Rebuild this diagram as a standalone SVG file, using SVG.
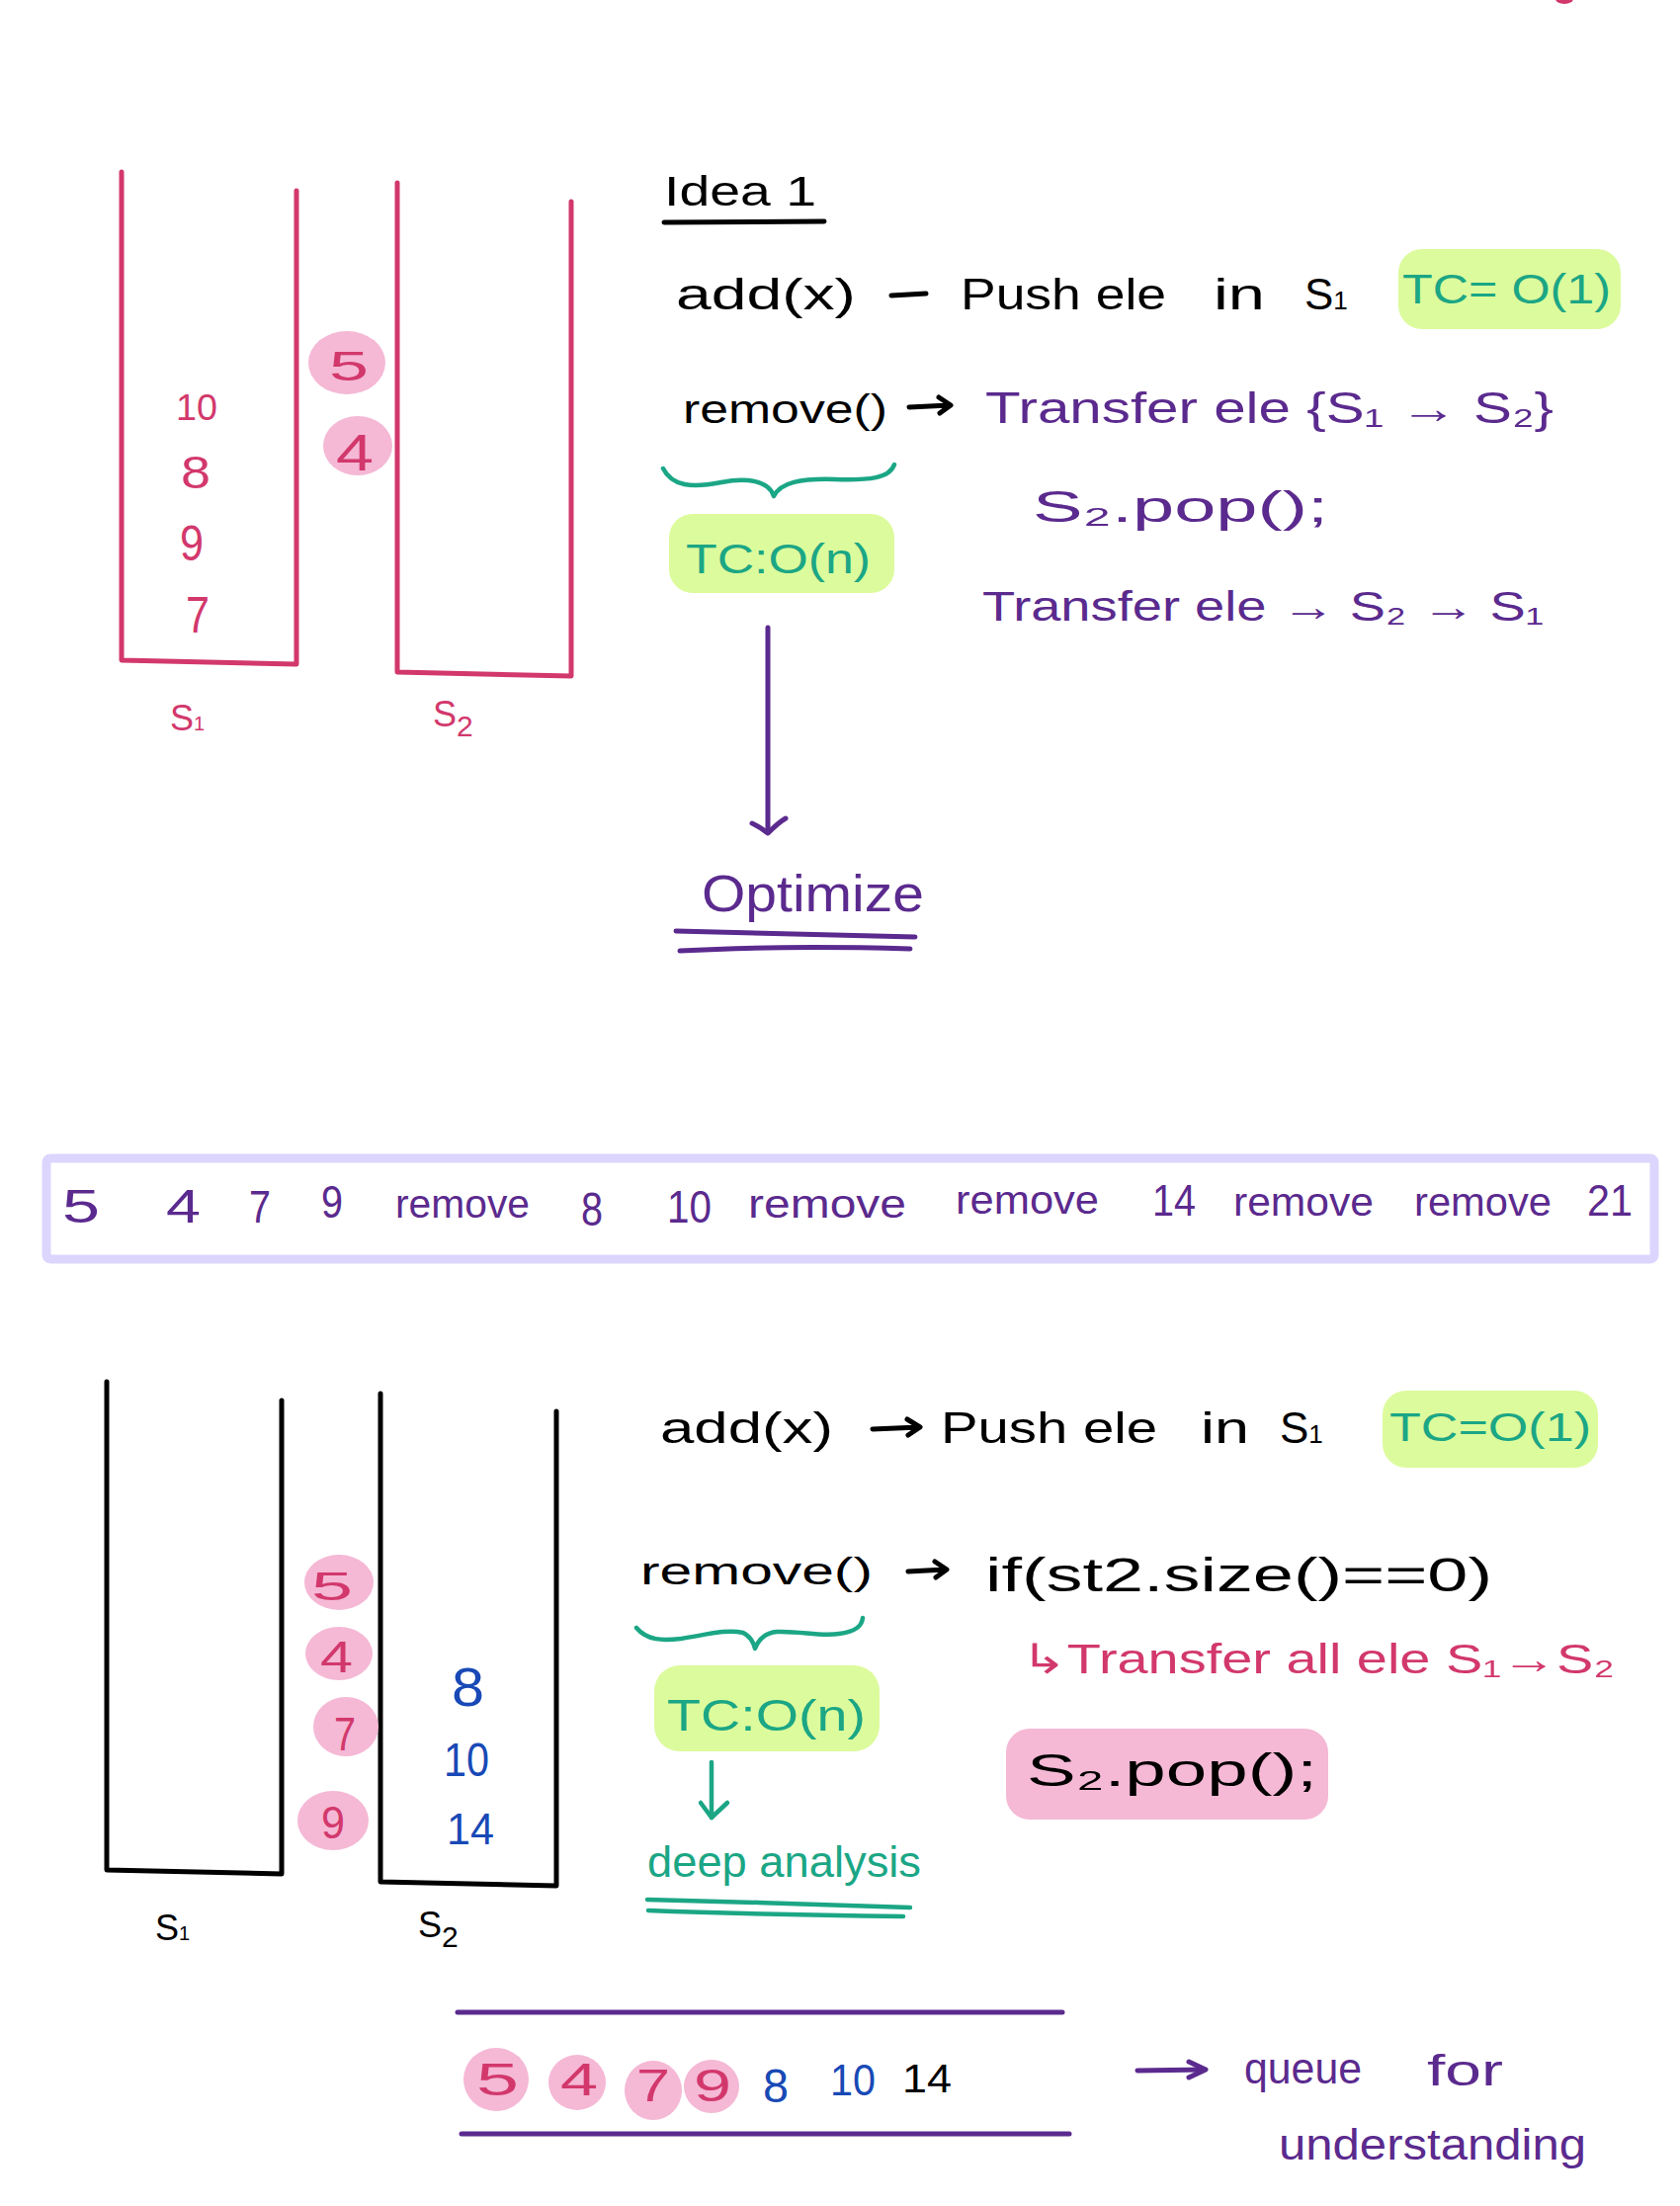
<svg xmlns="http://www.w3.org/2000/svg" width="1700" height="2232" viewBox="0 0 1700 2232">
<defs>
<style>
.t{font-family:"Liberation Sans","DejaVu Sans",sans-serif}
.pk{stroke:#D2386C;stroke-width:5;fill:none;stroke-linecap:round;stroke-linejoin:round}
.bkl{stroke:#000;stroke-width:5;fill:none;stroke-linecap:round;stroke-linejoin:round}
.pu{stroke:#5B2A8E;stroke-width:5;fill:none;stroke-linecap:round;stroke-linejoin:round}
.te{stroke:#1BA685;stroke-width:4.5;fill:none;stroke-linecap:round;stroke-linejoin:round}
.fpu{fill:#5B2A8E}
.fbk{fill:#000}
.fpk{fill:#D2386C}
.fte{fill:#1BA685}
.fbl{fill:#1849B6}
.hlg{fill:#DCFB9C}
.hlp{fill:#F5B8D5}
</style>
</defs>
<rect width="1700" height="2232" fill="#fff"/>
<ellipse cx="1583" cy="-1" rx="9" ry="5" fill="#D2386C"/>

<!-- ===== TOP SECTION ===== -->
<g id="top-stack-s1">
<path class="pk" d="M123,174 L123,668 L300,672 L300,193"/>
<text class="t fpk" x="178" y="425" font-size="36" textLength="42" lengthAdjust="spacingAndGlyphs">10</text>
<text class="t fpk" x="183" y="494" font-size="46" textLength="30" lengthAdjust="spacingAndGlyphs">8</text>
<text class="t fpk" x="182" y="567" font-size="50" textLength="24" lengthAdjust="spacingAndGlyphs">9</text>
<text class="t fpk" x="188" y="640" font-size="52" textLength="24" lengthAdjust="spacingAndGlyphs">7</text>
<text class="t fpk" x="172" y="739" font-size="36">S<tspan font-size="20">1</tspan></text>
</g>
<g id="top-stack-s2">
<path class="pk" d="M402,185 L402,680 L578,684 L578,204"/>
<text class="t fpk" x="438" y="735" font-size="36">S<tspan font-size="30" dy="10">2</tspan></text>
</g>
<g id="top-moving">
<ellipse class="hlp" cx="351" cy="367" rx="39" ry="32"/>
<ellipse class="hlp" cx="362" cy="451" rx="35" ry="30"/>
<text class="t fpk" x="333" y="385" font-size="42" textLength="40" lengthAdjust="spacingAndGlyphs">5</text>
<text class="t fpk" x="340" y="476" font-size="52" textLength="38" lengthAdjust="spacingAndGlyphs">4</text>
</g>

<g id="idea-title">
<text class="t fbk" x="672" y="208" font-size="42" textLength="154" lengthAdjust="spacingAndGlyphs">Idea 1</text>
<path class="bkl" d="M672,225 L834,224"/>
</g>

<g id="top-add">
<text class="t fbk" x="684" y="313" font-size="44" textLength="182" lengthAdjust="spacingAndGlyphs">add(x)</text>
<path class="bkl" d="M902,299 L937,297"/>
<text class="t fbk" x="972" y="313" font-size="44" textLength="208" lengthAdjust="spacingAndGlyphs">Push ele</text>
<text class="t fbk" x="1228" y="313" font-size="44" textLength="52" lengthAdjust="spacingAndGlyphs">in</text>
<text class="t fbk" x="1320" y="313" font-size="44">S<tspan font-size="26">1</tspan></text>
</g>
<g id="top-tc-add">
<rect class="hlg" x="1415" y="252" width="225" height="81" rx="24"/>
<text class="t fte" x="1419" y="307" font-size="42" textLength="211" lengthAdjust="spacingAndGlyphs">TC= O(1)</text>
</g>

<g id="top-remove">
<text class="t fbk" x="691" y="428" font-size="40" textLength="207" lengthAdjust="spacingAndGlyphs">remove()</text>
<path class="bkl" d="M920,412 L961,410 M950,402 L962,410 L951,418"/>
<text class="t fpu" x="997" y="428" font-size="44" textLength="575" lengthAdjust="spacingAndGlyphs">Transfer ele {S₁ → S₂}</text>
<text class="t fpu" x="1045" y="528" font-size="44" textLength="299" lengthAdjust="spacingAndGlyphs">S₂.pop();</text>
<text class="t fpu" x="994" y="628" font-size="42" textLength="568" lengthAdjust="spacingAndGlyphs">Transfer ele → S₂ → S₁</text>
</g>
<g id="top-tc-remove">
<path class="te" d="M671,474 C680,492 700,494 730,488 C755,483 778,486 783,502 C790,488 810,484 845,485 C880,486 900,484 905,470"/>
<rect class="hlg" x="677" y="520" width="228" height="80" rx="24"/>
<text class="t fte" x="694" y="580" font-size="42" textLength="187" lengthAdjust="spacingAndGlyphs">TC:O(n)</text>
</g>
<g id="optimize">
<text class="t fpu" x="710" y="922" font-size="52" textLength="225" lengthAdjust="spacingAndGlyphs">Optimize</text>
<path class="pu" d="M684,942 L926,948"/>
<path class="pu" d="M688,962 C760,958 850,958 921,960"/>
</g>

<!-- ===== SEQUENCE BAR ===== -->
<g id="sequence">
<rect x="47" y="1172" width="1627" height="102" rx="4" fill="none" stroke="#DCD6FE" stroke-width="9"/>
<text class="t fpu" x="63" y="1237" font-size="48" textLength="38" lengthAdjust="spacingAndGlyphs">5</text>
<text class="t fpu" x="168" y="1237" font-size="48" textLength="35" lengthAdjust="spacingAndGlyphs">4</text>
<text class="t fpu" x="252" y="1237" font-size="46" textLength="22" lengthAdjust="spacingAndGlyphs">7</text>
<text class="t fpu" x="325" y="1232" font-size="46" textLength="22" lengthAdjust="spacingAndGlyphs">9</text>
<text class="t fpu" x="400" y="1232" font-size="40" textLength="136" lengthAdjust="spacingAndGlyphs">remove</text>
<text class="t fpu" x="588" y="1240" font-size="48" textLength="22" lengthAdjust="spacingAndGlyphs">8</text>
<text class="t fpu" x="675" y="1237" font-size="46" textLength="45" lengthAdjust="spacingAndGlyphs">10</text>
<text class="t fpu" x="757" y="1232" font-size="40" textLength="160" lengthAdjust="spacingAndGlyphs">remove</text>
<text class="t fpu" x="967" y="1228" font-size="40" textLength="145" lengthAdjust="spacingAndGlyphs">remove</text>
<text class="t fpu" x="1166" y="1230" font-size="44" textLength="44" lengthAdjust="spacingAndGlyphs">14</text>
<text class="t fpu" x="1248" y="1230" font-size="40" textLength="142" lengthAdjust="spacingAndGlyphs">remove</text>
<text class="t fpu" x="1431" y="1230" font-size="40" textLength="139" lengthAdjust="spacingAndGlyphs">remove</text>
<text class="t fpu" x="1606" y="1230" font-size="44" textLength="46" lengthAdjust="spacingAndGlyphs">21</text>
</g>

<!-- ===== BOTTOM SECTION ===== -->
<g id="bottom-stack-s1">
<path class="bkl" d="M108,1398 L108,1892 L285,1896 L285,1417"/>
<text class="t fbk" x="157" y="1963" font-size="36">S<tspan font-size="20">1</tspan></text>
</g>
<g id="bottom-stack-s2">
<path class="bkl" d="M385,1410 L385,1904 L563,1908 L563,1428"/>
<text class="t fbl" x="457" y="1726" font-size="56" textLength="33" lengthAdjust="spacingAndGlyphs">8</text>
<text class="t fbl" x="449" y="1797" font-size="48" textLength="46" lengthAdjust="spacingAndGlyphs">10</text>
<text class="t fbl" x="452" y="1866" font-size="44" textLength="48" lengthAdjust="spacingAndGlyphs">14</text>
<text class="t fbk" x="423" y="1960" font-size="36">S<tspan font-size="30" dy="10">2</tspan></text>
</g>
<g id="bottom-moving">
<ellipse class="hlp" cx="343" cy="1601" rx="35" ry="28"/>
<ellipse class="hlp" cx="343" cy="1673" rx="34" ry="27"/>
<ellipse class="hlp" cx="350" cy="1747" rx="33" ry="30"/>
<ellipse class="hlp" cx="337" cy="1842" rx="36" ry="30"/>
<text class="t fpk" x="315" y="1619" font-size="40" textLength="42" lengthAdjust="spacingAndGlyphs">5</text>
<text class="t fpk" x="324" y="1692" font-size="44" textLength="33" lengthAdjust="spacingAndGlyphs">4</text>
<text class="t fpk" x="338" y="1771" font-size="48" textLength="22" lengthAdjust="spacingAndGlyphs">7</text>
<text class="t fpk" x="325" y="1860" font-size="46" textLength="24" lengthAdjust="spacingAndGlyphs">9</text>
</g>

<g id="bottom-add">
<text class="t fbk" x="668" y="1460" font-size="44" textLength="175" lengthAdjust="spacingAndGlyphs">add(x)</text>
<path class="bkl" d="M883,1446 L930,1444 M918,1436 L931,1444 L919,1452"/>
<text class="t fbk" x="952" y="1460" font-size="44" textLength="219" lengthAdjust="spacingAndGlyphs">Push ele</text>
<text class="t fbk" x="1215" y="1460" font-size="44" textLength="49" lengthAdjust="spacingAndGlyphs">in</text>
<text class="t fbk" x="1295" y="1460" font-size="44">S<tspan font-size="26">1</tspan></text>
</g>
<g id="bottom-tc-add">
<rect class="hlg" x="1399" y="1407" width="218" height="78" rx="24"/>
<text class="t fte" x="1406" y="1458" font-size="40" textLength="204" lengthAdjust="spacingAndGlyphs">TC=O(1)</text>
</g>

<g id="bottom-remove">
<text class="t fbk" x="648" y="1603" font-size="38" textLength="235" lengthAdjust="spacingAndGlyphs">remove()</text>
<path class="bkl" d="M919,1590 L957,1588 M946,1580 L958,1588 L947,1596"/>
<text class="t fbk" x="997" y="1610" font-size="48" textLength="513" lengthAdjust="spacingAndGlyphs">if(st2.size()==0)</text>
<text class="t fpk" x="1033" y="1693" font-size="42" textLength="601" lengthAdjust="spacingAndGlyphs">↳Transfer all ele S₁→S₂</text>
</g>
<g id="bottom-pop">
<rect class="hlp" x="1018" y="1749" width="326" height="92" rx="24"/>
<text class="t fbk" x="1039" y="1807" font-size="46" textLength="294" lengthAdjust="spacingAndGlyphs">S₂.pop();</text>
</g>
<g id="bottom-tc-remove">
<path class="te" d="M644,1647 C655,1660 670,1660 689,1658 C715,1654 735,1648 752,1652 C758,1655 762,1660 764,1668 C768,1658 775,1652 786,1651 C810,1650 830,1656 849,1653 C865,1651 872,1646 873,1637"/>
<rect class="hlg" x="662" y="1685" width="228" height="87" rx="26"/>
<text class="t fte" x="675" y="1751" font-size="44" textLength="201" lengthAdjust="spacingAndGlyphs">TC:O(n)</text>
</g>
<g id="deep-analysis">
<text class="t fte" x="655" y="1899" font-size="44" textLength="277" lengthAdjust="spacingAndGlyphs">deep analysis</text>
<path class="te" d="M655,1922 C740,1924 840,1927 921,1930"/>
<path class="te" d="M656,1933 C740,1936 840,1938 914,1939"/>
</g>

<g id="queue">
<path class="pu" d="M463,2036 L1075,2036"/>
<path class="pu" d="M467,2159 L1082,2159"/>
<ellipse class="hlp" cx="502" cy="2104" rx="33" ry="32"/>
<ellipse class="hlp" cx="584" cy="2107" rx="29" ry="28"/>
<ellipse class="hlp" cx="661" cy="2115" rx="29" ry="30"/>
<ellipse class="hlp" cx="720" cy="2111" rx="28" ry="27"/>
<text class="t fpk" x="482" y="2120" font-size="46" textLength="43" lengthAdjust="spacingAndGlyphs">5</text>
<text class="t fpk" x="567" y="2120" font-size="46" textLength="38" lengthAdjust="spacingAndGlyphs">4</text>
<text class="t fpk" x="644" y="2126" font-size="46" textLength="34" lengthAdjust="spacingAndGlyphs">7</text>
<text class="t fpk" x="702" y="2126" font-size="46" textLength="38" lengthAdjust="spacingAndGlyphs">9</text>
<text class="t fbl" x="772" y="2127" font-size="48" textLength="26" lengthAdjust="spacingAndGlyphs">8</text>
<text class="t fbl" x="840" y="2120" font-size="44" textLength="46" lengthAdjust="spacingAndGlyphs">10</text>
<text class="t fbk" x="913" y="2117" font-size="40" textLength="50" lengthAdjust="spacingAndGlyphs">14</text>
</g>
<g id="queue-note">
<text class="t fpu" x="1259" y="2108" font-size="44" textLength="119" lengthAdjust="spacingAndGlyphs">queue</text>
<text class="t fpu" x="1444" y="2110" font-size="44" textLength="77" lengthAdjust="spacingAndGlyphs">for</text>
<text class="t fpu" x="1294" y="2185" font-size="44" textLength="311" lengthAdjust="spacingAndGlyphs">understanding</text>
</g>

<!-- ===== CONNECTORS ===== -->
<g id="connectors">
<path class="pu" d="M777,635 L777,842"/>
<path class="pu" d="M761,833 C768,836 773,840 777,843 C782,838 788,832 795,828"/>
<path class="te" d="M720,1783 L720,1839"/>
<path class="te" d="M709,1824 L720,1839 L736,1824"/>
<path class="pu" d="M1151,2095 L1218,2094"/>
<path class="pu" d="M1203,2086 L1220,2094 L1203,2102"/>
</g>
</svg>
